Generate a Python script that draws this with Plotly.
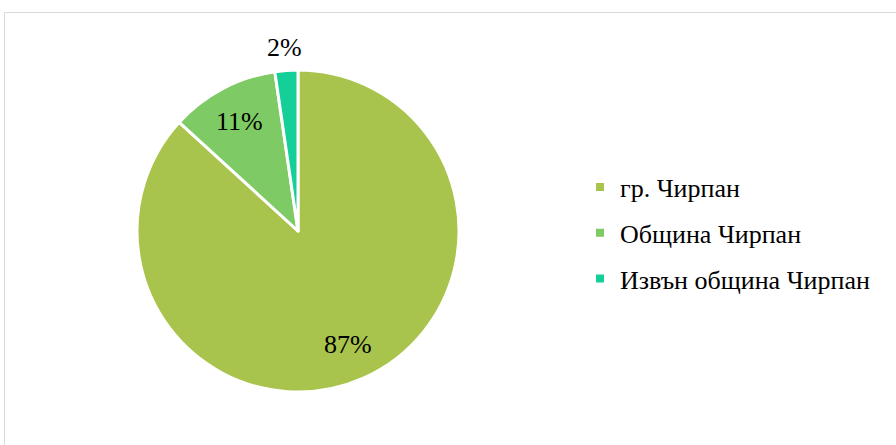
import math
import plotly.graph_objects as go

categories = ["гр. Чирпан", "Община Чирпан", "Извън община Чирпан"]
values = [86.8, 10.9, 2.3]
colors = ["#A9C44C", "#7ECA65", "#14CF98"]
label_pos = ["inside", "inside", "outside"]

W, H = 896, 445
FONT = "'Liberation Serif', 'Times New Roman', Tinos, serif"
FS = 26

CX, CY, R = 298, 231, 161

fig = go.Figure()
fig.add_trace(go.Pie(
    labels=categories, values=values, sort=False, direction="clockwise", rotation=0,
    marker=dict(colors=colors, line=dict(color="white", width=3)),
    textinfo="none", showlegend=False, hoverinfo="label+percent",
    domain=dict(x=[(CX - R) / W, (CX + R) / W], y=[1 - (CY + R) / H, 1 - (CY - R) / H]),
))

# percentage labels at each slice's mid-angle
total = sum(values)
cum = 0.0
annotations = []
for v, pos in zip(values, label_pos):
    mid = (cum + v / 2) / total * 2 * math.pi
    cum += v
    rf = 0.77 if pos == "inside" else 1.14
    px = CX + R * rf * math.sin(mid)
    py = CY - R * rf * math.cos(mid)
    annotations.append(dict(
        x=px / W, y=1 - py / H, xref="paper", yref="paper",
        text=f"{round(v / total * 100)}%", showarrow=False,
        font=dict(family=FONT, size=FS, color="black"),
        xanchor="center", yanchor="middle",
    ))

# legend entries with small square markers
for i, (cat, col) in enumerate(zip(categories, colors)):
    fig.add_trace(go.Scatter(
        x=[None], y=[None], mode="markers", name=cat,
        marker=dict(symbol="square", size=8, color=col),
        legendgroup=f"g{i}", showlegend=True,
    ))

fig.update_layout(
    width=W, height=H, margin=dict(l=0, r=0, t=0, b=0),
    paper_bgcolor="white", plot_bgcolor="white",
    xaxis=dict(visible=False), yaxis=dict(visible=False),
    showlegend=True,
    legend=dict(x=580 / W, y=1 - 233 / H, xanchor="left", yanchor="middle",
                font=dict(family=FONT, size=FS, color="black"),
                itemsizing="trace", tracegroupgap=9, bgcolor="rgba(0,0,0,0)"),
    annotations=annotations,
    shapes=[dict(type="rect", xref="paper", yref="paper",
                 x0=4.5 / W, x1=1.02, y0=-0.02, y1=1 - 12.5 / H,
                 line=dict(color="#D9D9D9", width=1), fillcolor="rgba(0,0,0,0)")],
)

fig.write_html("out.html", config={"displayModeBar": False},
               post_script="document.body.style.margin='0';")
